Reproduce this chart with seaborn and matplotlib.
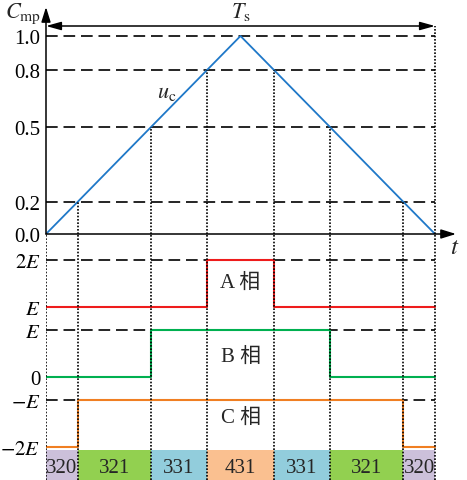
import numpy as np
import matplotlib
matplotlib.use("Agg")
import matplotlib.pyplot as plt
import seaborn as sns

# ---- data -------------------------------------------------------------
# comparison levels of the carrier and their tick labels
levels = [0.0, 0.2, 0.5, 0.8, 1.0]
level_labels = ["0.0", "0.2", "0.5", "0.8", "1.0"]
# vertical placement of each level (carrier drawn as a straight triangle)
level_heights = [0.0, 32.0, 107.0, 164.0, 198.0]

# carrier u_c over one period (t in units of Ts)
t_carrier = [0.0, 0.081, 0.270, 0.414, 0.5, 0.586, 0.730, 0.919, 1.0]
u_carrier = [0.0, 0.2, 0.5, 0.8, 1.0, 0.8, 0.5, 0.2, 0.0]

# switching instants and the level each one is compared with
t_switch = [0.081, 0.270, 0.414, 0.586, 0.730, 0.919]
switch_levels = [0.2, 0.5, 0.8, 0.8, 0.5, 0.2]

# phase output levels (in units of E), step-post
t_a = [0.0, 0.414, 0.586, 1.0]
v_a = [1, 2, 1, 1]
t_b = [0.0, 0.270, 0.730, 1.0]
v_b = [0, 1, 0, 0]
t_c = [0.0, 0.081, 0.919, 1.0]
v_c = [-2, -1, -2, -2]
phase_names = ["A 相", "B 相", "C 相"]

# switching-state sequence along the period
state_edges = [0.0, 0.081, 0.270, 0.414, 0.586, 0.730, 0.919, 1.0]
state_labels = ["320", "321", "331", "431", "331", "321", "320"]
state_colors = ["#ccc0da", "#92d050", "#92cddc", "#fac090",
                "#92cddc", "#92d050", "#ccc0da"]

# ---- style --------------------------------------------------------------
sns.set_style("white")
plt.rcParams["font.family"] = ["Liberation Serif", "Noto Sans CJK SC"]
plt.rcParams["mathtext.fontset"] = "stix"
plt.rcParams["axes.unicode_minus"] = True

FS = 15
W, H = 467, 481
X0, T_PX = 46.0, 389.0          # left edge and period width
fig = plt.figure(figsize=(W / 100, H / 100), dpi=100)


def fx(px):
    return px / W


def fy(py):
    return 1 - py / H


x_max = (W - X0) / T_PX
ax_top = fig.add_axes([fx(X0), fy(235), (W - X0) / W, 235 / H])
ax_bot = fig.add_axes([fx(X0), 0, (W - X0) / W, 246 / H])

# piecewise scale so that the carrier is a straight triangle
LV = np.array(levels)
LP = np.array(level_heights)
SLOPE_HI = (LP[-1] - LP[-2]) / (LV[-1] - LV[-2])


def fwd(v):
    v = np.asarray(v, dtype=float)
    return np.where(v >= 1.0, LP[-1] + (v - 1.0) * SLOPE_HI,
                    np.where(v <= 0.0, v * LP[1] / LV[1], np.interp(v, LV, LP)))


def inv(p):
    p = np.asarray(p, dtype=float)
    return np.where(p >= LP[-1], 1.0 + (p - LP[-1]) / SLOPE_HI,
                    np.where(p <= 0.0, p * LV[1] / LP[1], np.interp(p, LP, LV)))


ax_top.set_yscale("function", functions=(fwd, inv))
v_top = inv(235.0)
ax_top.set_xlim(0, x_max)
ax_top.set_ylim(0, float(v_top))

u_top = (377.7 - 235) / 46.7
u_bot = (377.7 - 481) / 46.7
ax_bot.set_xlim(0, x_max)
ax_bot.set_ylim(u_bot, u_top)

for ax in (ax_top, ax_bot):
    for s in ax.spines.values():
        s.set_visible(False)
    ax.set_xticks([])
    ax.patch.set_alpha(0)

DASH = (0, (7, 3.5))
DOT = (0, (1, 1))
LW = 1.2

# ---- top: carrier -------------------------------------------------------
ax_top.hlines(levels[1:], 0, 1.0, colors="k", linestyles=DASH, lw=LW, zorder=2)
sns.lineplot(x=t_carrier, y=u_carrier, ax=ax_top, color="#1f78c8", lw=1.3,
             zorder=3, sort=False)
ax_top.vlines(t_switch, 0, switch_levels, colors="k", linestyles=DOT,
              lw=LW, zorder=4)
arrow_v = float(inv(235.0 - 27.0))
ax_top.vlines([1.0], 0, arrow_v, colors="k", linestyles=DOT, lw=LW, zorder=4)

ax_top.set_yticks(levels)
ax_top.set_yticklabels(level_labels)
ax_top.tick_params(axis="y", direction="out", length=3, width=1, pad=1,
                   labelsize=FS, colors="k")
ax_top.set_ylabel("")

# axes arrows
ax_top.annotate("", xy=(0, float(inv(235.0 - 8))), xytext=(0, 0),
                xycoords="data", textcoords="data",
                arrowprops=dict(arrowstyle="-|>,head_length=0.9,head_width=0.28",
                                lw=1.1, color="k", shrinkA=0, shrinkB=0),
                annotation_clip=False)
ax_top.annotate("", xy=((456 - X0) / T_PX, 0), xytext=(0, 0),
                xycoords="data", textcoords="data",
                arrowprops=dict(arrowstyle="-|>,head_length=0.9,head_width=0.28",
                                lw=1.1, color="k", shrinkA=0, shrinkB=0),
                annotation_clip=False)
# period arrow
ax_top.annotate("", xy=(1.0, arrow_v), xytext=(0, arrow_v),
                xycoords="data", textcoords="data",
                arrowprops=dict(arrowstyle="<|-|>,head_length=0.9,head_width=0.25",
                                lw=1.1, color="k", shrinkA=0, shrinkB=0),
                annotation_clip=False)

fig.text(fx(241), fy(12), r"$T_{\mathrm{s}}$", ha="center", va="center",
         fontsize=16)
fig.text(fx(23), fy(14), r"$C_{\mathrm{mp}}$", ha="center", va="center",
         fontsize=16)
fig.text(fx(455), fy(248), r"$t$", ha="center", va="center", fontsize=18)
ax_top.text(0.31, 0.68, r"$u_{\mathrm{c}}$", ha="center", va="center",
            fontsize=16)

# ---- bottom: phase outputs ---------------------------------------------
OFF_A, OFF_B, OFF_C = 0.5, 0.0, 0.5

ax_bot.bar(state_edges[:-1], -1.56 - (u_bot - 0.1),
           width=np.diff(state_edges), bottom=u_bot - 0.1, align="edge",
           color=state_colors, lw=0, zorder=1)
for i, lab in enumerate(state_labels):
    xc = 0.5 * (state_edges[i] + state_edges[i + 1])
    ax_bot.text(xc, -1.95, lab, ha="center", va="center", fontsize=FS,
                zorder=5)

ax_bot.hlines([2 + OFF_A, 1 + OFF_B, -1 + OFF_C], 0, 1.0, colors="k",
              linestyles=DASH, lw=LW, zorder=2)

ya = np.array(v_a) + OFF_A
yb = np.array(v_b) + OFF_B
yc = np.array(v_c) + OFF_C
sns.lineplot(x=t_a, y=ya, ax=ax_bot, color="#ee1c1c", lw=1.5,
             drawstyle="steps-post", zorder=3, sort=False)
sns.lineplot(x=t_b, y=yb, ax=ax_bot, color="#00b050", lw=1.5,
             drawstyle="steps-post", zorder=3, sort=False)
sns.lineplot(x=t_c, y=yc, ax=ax_bot, color="#f07f22", lw=1.5,
             drawstyle="steps-post", zorder=3, sort=False)

ax_bot.vlines(state_edges, u_bot, u_top, colors="k", linestyles=DOT,
              lw=LW, zorder=4)

ax_bot.set_yticks([2 + OFF_A, 1 + OFF_A, 1 + OFF_B, 0 + OFF_B,
                   -1 + OFF_C, -2 + OFF_C])
ax_bot.set_yticklabels([r"$2E$", r"$E$", r"$E$", "0", r"$-E$", r"$-2E$"])
ax_bot.tick_params(axis="y", direction="out", length=3, width=1, pad=1,
                   labelsize=FS, colors="k")
ax_bot.set_ylabel("")

label_u = [2.03, 0.44, -0.88]
for name, u in zip(phase_names, label_u):
    ax_bot.text(0.5, u, name, ha="center", va="center", fontsize=FS)

fig.savefig("out.png", dpi=100)
